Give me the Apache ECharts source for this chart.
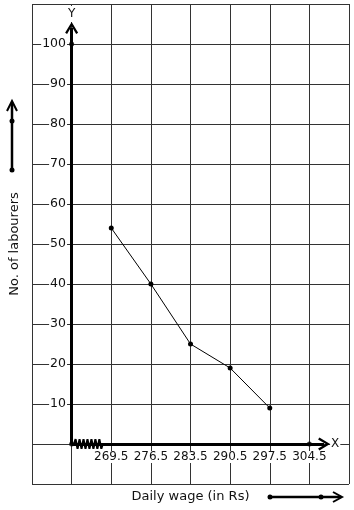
<!DOCTYPE html>
<html>
<head>
<meta charset="utf-8">
<script src="https://cdn.jsdelivr.net/npm/echarts@6/dist/echarts.min.js"></script>
<style>
html, body { margin: 0; padding: 0; background: #fff; }
#main { width: 354px; height: 510px; }
</style>
</head>
<body>
<div id="main"></div>
<script>
// grid columns (class marks incl. padding), labelled marks, data
const gridMarks = [255.5, 262.5, 269.5, 276.5, 283.5, 290.5, 297.5, 304.5, 311.5];
const wageLabels = [269.5, 276.5, 283.5, 290.5, 297.5, 304.5];
const classMarks = [269.5, 276.5, 283.5, 290.5, 297.5];
const labourers = [54, 40, 25, 19, 9];
const axisDots = [[262.5, 100], [262.5, 0], [304.5, 0]];
const kink = [[262.9, 0], [263.2, 1.2], [263.55, -1.2], [263.9, 1.2], [264.25, -1.2], [264.6, 1.2],
    [264.95, -1.2], [265.3, 1.2], [265.65, -1.2], [266.0, 1.2], [266.35, -1.2], [266.7, 1.2],
    [267.05, -1.2], [267.4, 1.2], [267.75, -1.2], [268.0, 0]];

const mainEl = document.getElementById("main");
let chart = echarts.init(mainEl);

const font = 'DejaVu Sans';
const chevron = 'path://M0,10 L6,0 L12,10 L10.2,11.2 L6,4 L1.8,11.2 Z';

const option = {
    animation: false,
    grid: { left: 29, right: 5, top: 4, bottom: 26 },
    xAxis: {
        type: 'value',
        min: 255.5,
        max: 311.5,
        offset: -40,
        axisLine: { show: false, onZero: false },
        axisTick: { show: false, customValues: gridMarks },
        splitLine: { show: true, lineStyle: { color: '#333', width: 1 } },
        axisLabel: {
            customValues: wageLabels,
            margin: 7,
            color: '#111',
            fontFamily: font,
            fontSize: 12,
            backgroundColor: '#fff',
            padding: [0, 1],
            formatter: (v) => v.toFixed(1)
        },
        name: 'Daily wage (in Rs)',
        nameLocation: 'middle',
        nameGap: 46,
        nameTextStyle: { color: '#111', fontFamily: font, fontSize: 13 }
    },
    yAxis: {
        type: 'value',
        min: -10,
        max: 110,
        interval: 10,
        offset: -40,
        axisLine: { show: false, onZero: false },
        axisTick: { show: false },
        splitLine: { show: true, lineStyle: { color: '#333', width: 1 } },
        axisLabel: {
            margin: 5,
            color: '#111',
            fontFamily: font,
            fontSize: 12.5,
            backgroundColor: '#fff',
            padding: [0, 1],
            formatter: (v) => (v > 0 && v <= 100) ? String(v) : ''
        },
        name: 'No. of labourers',
        nameLocation: 'middle',
        nameGap: 51,
        nameTextStyle: { color: '#111', fontFamily: font, fontSize: 13 }
    },
    series: [
        {
            name: 'axes',
            type: 'scatter',
            data: axisDots,
            symbolSize: 5,
            itemStyle: { color: '#000' },
            z: 4,
            markLine: {
                silent: true,
                symbol: ['none', chevron],
                symbolSize: [13, 12],
                lineStyle: { color: '#000', width: 3, type: 'solid' },
                label: {
                    show: true,
                    position: 'end',
                    distance: 6,
                    color: '#111',
                    fontFamily: font,
                    fontSize: 12,
                    backgroundColor: '#fff',
                    padding: [2, 1]
                },
                data: [
                    [{ coord: [262.5, 0], label: { formatter: 'Y' } }, { coord: [262.5, 104] }],
                    [{ coord: [262.5, 0], label: { formatter: 'X' } }, { coord: [307.1, 0] }]
                ]
            }
        },
        {
            name: 'kink',
            type: 'line',
            data: kink,
            symbol: 'none',
            lineStyle: { color: '#000', width: 2 },
            z: 6
        },
        {
            name: 'labourers',
            type: 'line',
            data: classMarks.map((m, i) => [m, labourers[i]]),
            symbol: 'circle',
            symbolSize: 5,
            lineStyle: { color: '#000', width: 1 },
            itemStyle: { color: '#000' },
            z: 5
        }
    ],
    graphic: [
        { type: 'line', shape: { x1: 12, y1: 170, x2: 12, y2: 103 }, style: { stroke: '#000', lineWidth: 2.5 } },
        { type: 'circle', shape: { cx: 12, cy: 170, r: 2.5 }, style: { fill: '#000' } },
        { type: 'circle', shape: { cx: 12, cy: 121, r: 2.5 }, style: { fill: '#000' } },
        { type: 'polyline', shape: { points: [[7, 111], [12, 101], [17, 111]] }, style: { stroke: '#000', lineWidth: 2, fill: null } },
        { type: 'line', shape: { x1: 270, y1: 497, x2: 341, y2: 497 }, style: { stroke: '#000', lineWidth: 2.5 } },
        { type: 'circle', shape: { cx: 270, cy: 497, r: 2.5 }, style: { fill: '#000' } },
        { type: 'circle', shape: { cx: 321, cy: 497, r: 2.5 }, style: { fill: '#000' } },
        { type: 'polyline', shape: { points: [[333, 492], [342, 497], [333, 502]] }, style: { stroke: '#000', lineWidth: 2, fill: null } }
    ]
};

chart.setOption(option);
</script>
</body>
</html>
